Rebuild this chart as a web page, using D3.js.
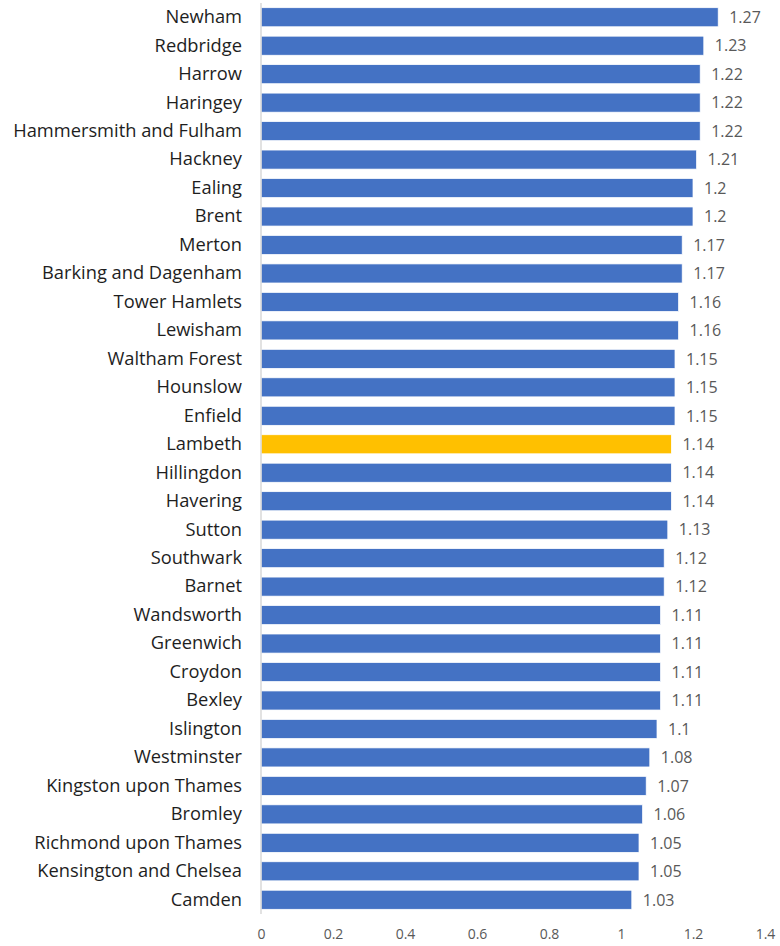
<!DOCTYPE html>
<html>
<head>
<meta charset="utf-8">
<script src="https://cdn.jsdelivr.net/npm/d3@7"></script>
<style>
  body { margin: 0; background: #fff; }
  svg text { font-family: "Open Sans", "Noto Sans", sans-serif; }
</style>
</head>
<body>
<svg id="chart" width="780" height="946"></svg>
<script>
// boroughs, top to bottom
const boroughs = ["Newham", "Redbridge", "Harrow", "Haringey", "Hammersmith and Fulham", "Hackney",
  "Ealing", "Brent", "Merton", "Barking and Dagenham", "Tower Hamlets", "Lewisham", "Waltham Forest",
  "Hounslow", "Enfield", "Lambeth", "Hillingdon", "Havering", "Sutton", "Southwark", "Barnet",
  "Wandsworth", "Greenwich", "Croydon", "Bexley", "Islington", "Westminster", "Kingston upon Thames",
  "Bromley", "Richmond upon Thames", "Kensington and Chelsea", "Camden"];
const values = [1.27, 1.23, 1.22, 1.22, 1.22, 1.21, 1.2, 1.2, 1.17, 1.17, 1.16, 1.16, 1.15,
  1.15, 1.15, 1.14, 1.14, 1.14, 1.13, 1.12, 1.12, 1.11, 1.11, 1.11, 1.11, 1.1, 1.08, 1.07,
  1.06, 1.05, 1.05, 1.03];
const highlight = "Lambeth";
const xTicks = [0, 0.2, 0.4, 0.6, 0.8, 1, 1.2, 1.4];

const data = boroughs.map((b, i) => ({ name: b, value: values[i] }));

const svg = d3.select("#chart");
const plotLeft = 261, plotRight = 765, plotTop = 3, plotBottom = 914;

const x = d3.scaleLinear().domain([0, 1.4]).range([plotLeft, plotRight]);
const y = d3.scaleBand().domain(boroughs).range([plotTop, plotBottom]).paddingInner(0.33).paddingOuter(0.165);

// bars
svg.selectAll("rect.bar")
  .data(data)
  .enter()
  .append("rect")
  .attr("class", "bar")
  .attr("x", x(0))
  .attr("y", d => y(d.name))
  .attr("width", d => x(d.value) - x(0))
  .attr("height", y.bandwidth())
  .attr("fill", d => d.name === highlight ? "#ffc000" : "#4472c4")
  .attr("stroke", "#fff")
  .attr("stroke-width", 0.75);

// value labels
svg.selectAll("text.val")
  .data(data)
  .enter()
  .append("text")
  .attr("class", "val")
  .attr("x", d => x(d.value) + 11)
  .attr("y", d => y(d.name) + y.bandwidth() / 2)
  .attr("dy", "0.36em")
  .attr("font-size", 16)
  .attr("fill", "#595959")
  .text(d => d.value);

// category axis
const yAxis = d3.axisLeft(y).tickSize(0).tickPadding(19);
const gy = svg.append("g").attr("transform", `translate(${plotLeft},0)`).call(yAxis);
gy.select(".domain").attr("stroke", "#d9d9d9").attr("stroke-width", 1.5)
  .attr("d", `M0,${plotTop}V${plotBottom}`);
gy.selectAll("text").attr("font-size", 18.3).attr("fill", "#1e1e1e")
  .style("font-family", "'Open Sans', 'Noto Sans', sans-serif");

// value axis (labels only)
const xAxis = d3.axisBottom(x).tickValues(xTicks).tickSize(0).tickPadding(12)
  .tickFormat(d3.format("~g"));
const gx = svg.append("g").attr("transform", `translate(0,${plotBottom + 3})`).call(xAxis);
gx.select(".domain").remove();
gx.selectAll("text").attr("font-size", 14).attr("fill", "#595959")
  .style("font-family", "'Open Sans', 'Noto Sans', sans-serif");
</script>
</body>
</html>
